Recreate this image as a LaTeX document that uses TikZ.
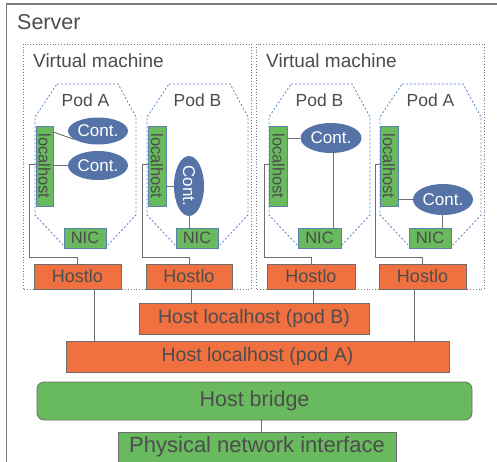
\documentclass[tikz,border=0pt]{standalone}
\usepackage{fontspec}
\setmainfont{Liberation Sans}
\usepackage{graphicx}
\usetikzlibrary{shapes.geometric}
\usepackage{xcolor}
\definecolor{txtgray}{HTML}{4D4D4D}
\definecolor{nicgreen}{HTML}{69B95E}
\definecolor{boxblue}{HTML}{5B7FAE}
\definecolor{hostorange}{HTML}{F0703F}
\definecolor{contblue}{HTML}{5573A6}
\definecolor{podblue}{HTML}{5B84C4}
\definecolor{vmgray}{HTML}{7A7A7A}
\definecolor{wiregray}{HTML}{6E6E6E}

\tikzset{
  lbl/.style={text=txtgray, inner sep=0pt},
  greenbox/.style={draw=boxblue, fill=nicgreen, text=txtgray, inner sep=0pt, line width=0.8pt},
  orangebox/.style={draw=wiregray, fill=hostorange, text=txtgray, inner sep=0pt, line width=0.8pt},
  cont/.style={ellipse, fill=contblue, text=white, inner sep=0pt, font=\fontsize{17}{17}\selectfont},
  pod/.style={draw=podblue, dash pattern=on 2pt off 2pt, line width=0.8pt},
  vm/.style={draw=vmgray, dotted, line width=0.8pt},
  wire/.style={draw=wiregray, line width=0.9pt}
}

\begin{document}
\begin{tikzpicture}[x=1pt,y=-1pt]
\clip (0,0) rectangle (497,462);
\fill[white] (0,0) rectangle (497,462);
\draw[draw=vmgray, line width=1.2pt] (6.5,4) rectangle (530,490);
\node[lbl, anchor=west, font=\fontsize{21.5}{21.5}\selectfont] (server) at (17,22) {Server};

% virtual machines
\draw[vm] (23,44) rectangle (251,289);
\draw[vm] (256,44) rectangle (484,289);
\node[lbl, anchor=west, font=\fontsize{19}{19}\selectfont] (vmone) at (33,61) {Virtual machine};
\node[lbl, anchor=west, font=\fontsize{19}{19}\selectfont] (vmtwo) at (266,61) {Virtual machine};

% pods
\draw[pod] (57,84) -- (118,84) -- (136,117) -- (136,215) -- (106,247) -- (65,247) -- (35,215) -- (35,117) -- cycle;
\draw[pod] (169,84) -- (230,84) -- (248,117) -- (248,215) -- (218,247) -- (177,247) -- (147,215) -- (147,117) -- cycle;
\draw[pod] (291,84) -- (352,84) -- (370,117) -- (370,215) -- (340,247) -- (299,247) -- (269,215) -- (269,117) -- cycle;
\draw[pod] (402,84) -- (463,84) -- (481,117) -- (481,215) -- (451,247) -- (410,247) -- (380,215) -- (380,117) -- cycle;
\node[lbl, font=\fontsize{17.5}{17.5}\selectfont] (podAone) at (85.5,100) {Pod A};
\node[lbl, font=\fontsize{17.5}{17.5}\selectfont] (podBone) at (197.5,100) {Pod B};
\node[lbl, font=\fontsize{17.5}{17.5}\selectfont] (podBtwo) at (319.5,100) {Pod B};
\node[lbl, font=\fontsize{17.5}{17.5}\selectfont] (podAtwo) at (430.5,100) {Pod A};

% localhost boxes
\node[greenbox, minimum width=17pt, minimum height=80pt, font=\fontsize{16.5}{16.5}\selectfont] (lhAone) at (44.5,166) {\rotatebox{-90}{localhost}};
\node[greenbox, minimum width=18pt, minimum height=80pt, font=\fontsize{16.5}{16.5}\selectfont] (lhBone) at (157,166) {\rotatebox{-90}{localhost}};
\node[greenbox, minimum width=18pt, minimum height=80pt, font=\fontsize{16.5}{16.5}\selectfont] (lhBtwo) at (278.5,166) {\rotatebox{-90}{localhost}};
\node[greenbox, minimum width=18pt, minimum height=80pt, font=\fontsize{16.5}{16.5}\selectfont] (lhAtwo) at (389,166) {\rotatebox{-90}{localhost}};

% containers
\node[cont, minimum width=60pt, minimum height=27pt] (cAone) at (98,131) {Cont.};
\node[cont, minimum width=60pt, minimum height=29pt] (cAonex) at (98,165.5) {Cont.};
\node[cont, minimum width=30pt, minimum height=60pt] (cBone) at (189,186) {\rotatebox{-90}{Cont.}};
\node[cont, minimum width=61pt, minimum height=30pt] (cBtwo) at (331,138) {Cont.};
\node[cont, minimum width=60pt, minimum height=31pt] (cAtwo) at (443,199.5) {Cont.};

% NICs
\node[greenbox, minimum width=42pt, minimum height=20pt, font=\fontsize{16.5}{16.5}\selectfont] (nicAone) at (85,238) {NIC};
\node[greenbox, minimum width=42pt, minimum height=20pt, font=\fontsize{16.5}{16.5}\selectfont] (nicBone) at (197,238) {NIC};
\node[greenbox, minimum width=43pt, minimum height=20pt, font=\fontsize{16.5}{16.5}\selectfont] (nicBtwo) at (319.5,238) {NIC};
\node[greenbox, minimum width=42pt, minimum height=20pt, font=\fontsize{16.5}{16.5}\selectfont] (nicAtwo) at (430,238) {NIC};

% Hostlo
\node[orangebox, minimum width=87pt, minimum height=25pt, font=\fontsize{18}{18}\selectfont] (hloAone) at (77.5,276.5) {Hostlo};
\node[orangebox, minimum width=86pt, minimum height=25pt, font=\fontsize{18}{18}\selectfont] (hloBone) at (189,276.5) {Hostlo};
\node[orangebox, minimum width=88pt, minimum height=25pt, font=\fontsize{18}{18}\selectfont] (hloBtwo) at (311,276.5) {Hostlo};
\node[orangebox, minimum width=87pt, minimum height=25pt, font=\fontsize{18}{18}\selectfont] (hloAtwo) at (422.5,276.5) {Hostlo};

% host side
\node[orangebox, minimum width=230pt, minimum height=31pt, font=\fontsize{19.5}{19.5}\selectfont] (hostB) at (254,318.5) {Host localhost (pod B)};
\node[orangebox, minimum width=383pt, minimum height=31pt, font=\fontsize{19.5}{19.5}\selectfont] (hostA) at (257.5,356.5) {Host localhost (pod A)};
\node[draw=wiregray, fill=nicgreen, text=txtgray, inner sep=0pt, line width=0.8pt, rounded corners=7pt, minimum width=435pt, minimum height=38pt, font=\fontsize{21.5}{21.5}\selectfont] (bridge) at (254.5,401) {Host bridge};
\node[draw=wiregray, fill=nicgreen, text=txtgray, inner sep=0pt, line width=0.8pt, minimum width=278pt, minimum height=30pt, font=\fontsize{22}{22}\selectfont] (phys) at (257,447) {Physical network interface};

% wires inside pods
\draw[wire] ([yshift=34pt]lhAone.east) -- (cAone.200);
\draw[wire] (cAonex.west) -- (cAonex.west -| lhAone.east);
\draw[wire] (cBone.west) -- (cBone.west -| lhBone.east);
\draw[wire] (cBone.south) -- (cBone.south |- nicBone.north);
\draw[wire] (cBtwo.west) -- (cBtwo.west -| lhBtwo.east);
\draw[wire] ([xshift=2pt]cBtwo.south) -- ([xshift=2pt]cBtwo.south |- nicBtwo.north);
\draw[wire] (cAtwo.west) -- (cAtwo.west -| lhAtwo.east);
\draw[wire] ([xshift=-1pt]cAtwo.south) -- ([xshift=-1pt]cAtwo.south |- nicAtwo.north);

% localhost to Hostlo
\draw[wire] ([yshift=2pt]lhAone.west) -- ++(-6,0) |- ([yshift=6pt]hloAone.north) -- (hloAone.north);
\draw[wire] ([yshift=2pt]lhBone.west) -- ++(-5,0) |- ([yshift=6pt]hloBone.north) -- (hloBone.north);
\draw[wire] ([yshift=2pt]lhBtwo.west) -- ++(-5,0) |- ([yshift=6pt]hloBtwo.north) -- (hloBtwo.north);
\draw[wire] ([yshift=2pt]lhAtwo.west) -- ++(-4,0) |- ([yshift=6pt]hloAtwo.north) -- (hloAtwo.north);

% Hostlo to host localhost
\draw[wire] ([xshift=16.5pt]hloAone.south) -- ([xshift=16.5pt]hloAone.south |- hostA.north);
\draw[wire] ([xshift=2pt]hloBone.south) -- ([xshift=2pt]hloBone.south |- hostB.north);
\draw[wire] ([xshift=2pt]hloBtwo.south) -- ([xshift=2pt]hloBtwo.south |- hostB.north);
\draw[wire] ([xshift=-8.5pt]hloAtwo.south) -- ([xshift=-8.5pt]hloAtwo.south |- hostA.north);
\draw[wire] ([xshift=6.5pt]bridge.south) -- ([xshift=6.5pt]bridge.south |- phys.north);
\end{tikzpicture}
\end{document}
